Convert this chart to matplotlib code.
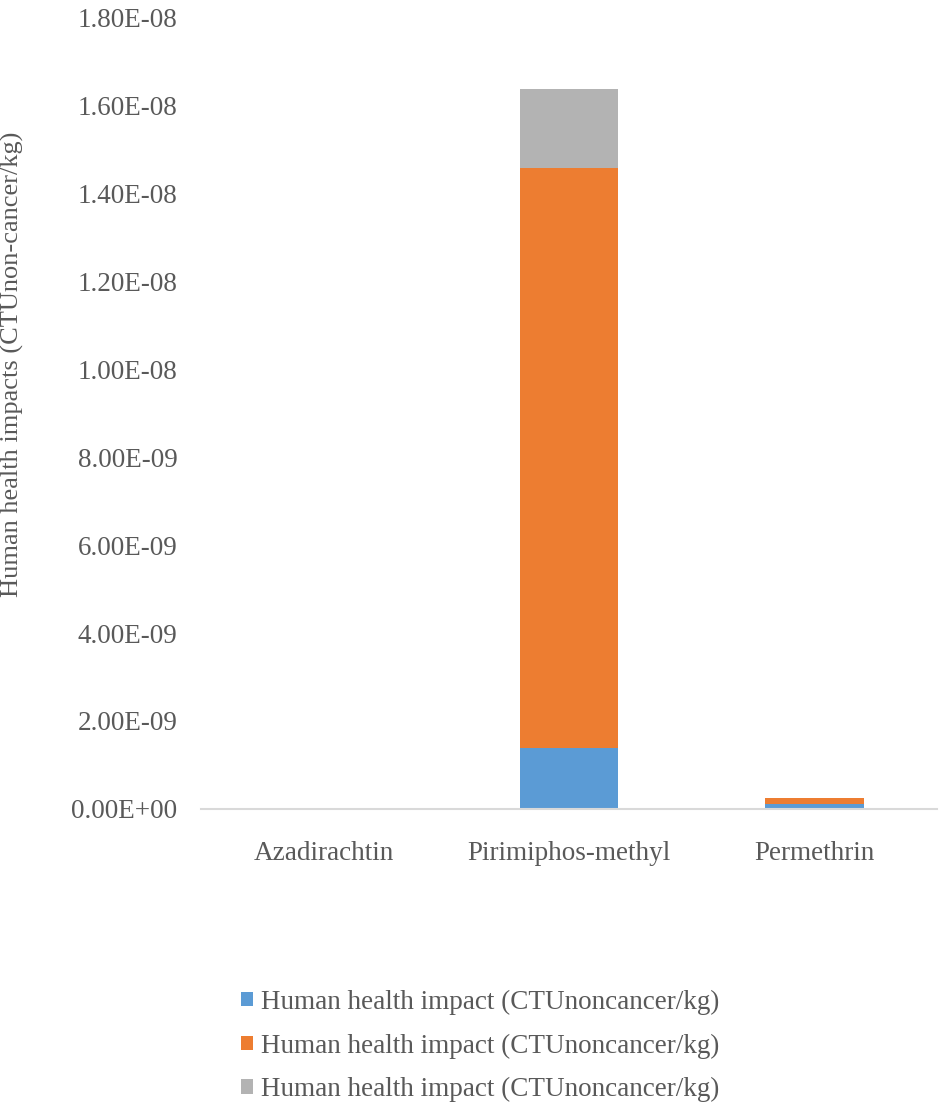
import numpy as np
import matplotlib
matplotlib.use("Agg")
import matplotlib.pyplot as plt

plt.rcParams['font.family'] = ['Liberation Serif', 'DejaVu Serif']

# data
categories = ['Azadirachtin', 'Pirimiphos-methyl', 'Permethrin']
series_labels = ['Human health impact (CTUnoncancer/kg)'] * 3
blue_vals = [0.0, 1.39e-09, 1.0e-10]
orange_vals = [0.0, 1.320e-08, 1.55e-10]
gray_vals = [0.0, 1.79e-09, 0.0]
yticks = np.arange(0, 1.81e-08, 2e-09)

colors = ['#5B9BD5', '#ED7D31', '#B3B3B3']
text_col = '#595959'
fs = 19.5

fig = plt.figure(figsize=(9.39, 11.02), dpi=100)
ax = fig.add_axes([0.214, 0.266, 0.784, 0.718])

x = np.arange(len(categories))
w = 0.4
b1 = ax.bar(x, blue_vals, w, color=colors[0], label=series_labels[0])
bottom2 = np.array(blue_vals)
b2 = ax.bar(x, orange_vals, w, bottom=bottom2, color=colors[1], label=series_labels[1])
bottom3 = bottom2 + np.array(orange_vals)
b3 = ax.bar(x, gray_vals, w, bottom=bottom3, color=colors[2], label=series_labels[2])

ax.set_xlim(-0.5, 2.5)
ax.set_ylim(0, 1.8e-08)
ax.set_yticks(yticks)
ax.set_yticklabels(['%.2E' % v for v in yticks])
ax.set_xticks(x)
ax.set_xticklabels(categories)
ax.tick_params(axis='both', length=0, labelsize=fs, colors=text_col)
ax.tick_params(axis='y', pad=17)
ax.tick_params(axis='x', pad=23)

for s in ['top', 'right', 'left']:
    ax.spines[s].set_visible(False)
ax.spines['bottom'].set_color('#D9D9D9')
ax.spines['bottom'].set_linewidth(1.5)

fig.text(12 / 939, 1 - 364 / 1102, 'Human health impacts (CTUnon-cancer/kg)',
         rotation=90, ha='center', va='center', fontsize=19, color=text_col)

leg = fig.legend(handles=[b1, b2, b3], loc='center',
                 bbox_to_anchor=(480 / 939, 1 - 1046 / 1102), ncol=1,
                 frameon=False, fontsize=fs, handlelength=0.45, handleheight=0.45,
                 handletextpad=0.3, labelspacing=0.69)
for t in leg.get_texts():
    t.set_color(text_col)

fig.savefig('out.png', dpi=100)
